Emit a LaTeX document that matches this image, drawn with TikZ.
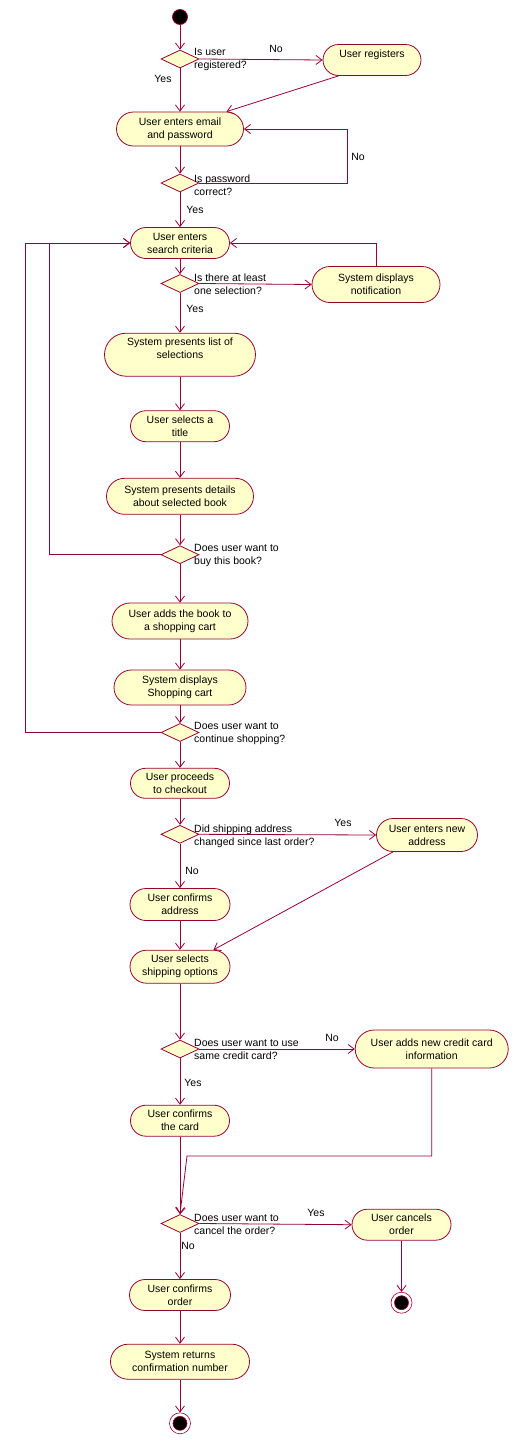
\documentclass[tikz,border=0pt]{standalone}
\usepackage{fontspec}
\setmainfont{Liberation Sans}
\usepackage{tikz}
\usetikzlibrary{shapes.misc,shapes.geometric,arrows.meta}
\definecolor{linec}{RGB}{153,0,51}
\definecolor{fillc}{RGB}{255,255,204}

\begin{document}
\begin{tikzpicture}[x=1pt,y=-1pt,
    act/.style={draw=linec,fill=fillc,rounded rectangle,line width=0.8pt,align=center},
    dec/.style={draw=linec,fill=fillc,diamond,line width=0.8pt,minimum width=38pt,minimum height=18pt},
    qtext/.style={anchor=west,align=left},
    flow/.style={draw=linec,line width=0.8pt,-{Straight Barb[length=6pt,width=9pt]}},
    startst/.style={circle,fill=black,draw=linec,line width=0.8pt,minimum size=15pt},
    endst/.style={circle,draw=linec,line width=0.6pt,minimum size=21pt,
      path picture={\fill[black,draw=linec] (path picture bounding box.center) circle (7pt);}}]
            \tikzstyle{every node}+=[inner sep=0pt,font=\fontsize{10.5}{13}\selectfont]
            \useasboundingbox (0,0) rectangle (525,1443);
            % states
            \node[startst] (start) at (180,17) {};
            \node[dec] (d1) at (180,59) {};
            \node[qtext] (q1) at (194,59.5) {Is user\\registered?};
            \node[act,minimum width=98pt,minimum height=31pt] (reg) at (372,60) {User registers\\~};
            \node[act,minimum width=127pt,minimum height=34pt] (email) at (180,129) {User enters email\\and password};
            \node[dec] (d2) at (180,183) {};
            \node[qtext] (q2) at (194,185.5) {Is password\\correct?};
            \node[act,minimum width=99pt,minimum height=31pt] (search) at (180,243) {User enters\\search criteria};
            \node[dec] (d3) at (180,283.5) {};
            \node[qtext] (q3) at (194,284.7) {Is there at least\\one selection?};
            \node[act,minimum width=128pt,minimum height=36pt] (notif) at (376,284.5) {System displays\\notification};
            \node[act,minimum width=151pt,minimum height=43pt] (list) at (180,354.7) {System presents list of\\selections\\~};
            \node[act,minimum width=99pt,minimum height=31pt] (title) at (180,426.2) {User selects a\\title};
            \node[act,minimum width=147pt,minimum height=36pt] (details) at (180,496.3) {System presents details\\about selected book};
            \node[dec] (d4) at (180,554.7) {};
            \node[qtext] (q4) at (194,555) {Does user want to\\buy this book?};
            \node[act,minimum width=136pt,minimum height=36pt] (add) at (180,621) {User adds the book to\\a shopping cart};
            \node[act,minimum width=132pt,minimum height=35pt] (cart) at (180,687.5) {System displays\\Shopping cart};
            \node[dec] (d5) at (180,732.5) {};
            \node[qtext] (q5) at (194,733.7) {Does user want to\\continue shopping?};
            \node[act,minimum width=99pt,minimum height=30pt] (checkout) at (180,783.3) {User proceeds\\to checkout};
            \node[dec] (d6) at (180,834.3) {};
            \node[qtext] (q6) at (194,835.8) {Did shipping address\\changed since last order?};
            \node[act,minimum width=101pt,minimum height=33pt] (newaddr) at (427,835) {User enters new\\address};
            \node[act,minimum width=100pt,minimum height=32pt] (confaddr) at (180,904.5) {User confirms\\address};
            \node[act,minimum width=100pt,minimum height=33pt] (shipopt) at (180,966.7) {User selects\\shipping options};
            \node[dec] (d7) at (180,1049) {};
            \node[qtext] (q7) at (194,1049.7) {Does user want to use\\same credit card?};
            \node[act,minimum width=153pt,minimum height=38pt] (newcard) at (431.7,1049) {User adds new credit card\\information};
            \node[act,minimum width=99pt,minimum height=31pt] (confcard) at (180,1120.7) {User confirms\\the card};
            \node[dec] (d8) at (180,1223.5) {};
            \node[qtext] (q8) at (194,1224.5) {Does user want to\\cancel the order?};
            \node[act,minimum width=99pt,minimum height=31pt] (cancel) at (401.5,1224.7) {User cancels\\order};
            \node[endst] (end2) at (401.5,1302.7) {};
            \node[act,minimum width=101pt,minimum height=31pt] (confirm) at (180,1295) {User confirms\\order};
            \node[act,minimum width=139pt,minimum height=35pt] (returns) at (180,1361.7) {System returns\\confirmation number};
            \node[endst] (end1) at (180,1423.3) {};
            % guard labels
            \node (l1) at (276,49) {No};
            \node (l2) at (163,79) {Yes};
            \node (l3) at (358,157) {No};
            \node (l4) at (195,210) {Yes};
            \node (l5) at (195,309) {Yes};
            \node (l6) at (343,823) {Yes};
            \node (l7) at (192,871) {No};
            \node (l8) at (332,1038) {No};
            \node (l9) at (193,1083) {Yes};
            \node (l10) at (316,1213) {Yes};
            \node (l11) at (188,1246) {No};
            \coordinate (bend) at (187,1156);
            % transitions
            \draw[flow] (start) -- (d1.north);
            \draw[flow] (d1.east) -- (reg.west);
            \draw[flow] (d1.south) -- (email.north);
            \draw[flow] (reg.south west) -- (email.north east);
            \draw[flow] (email.south) -- (d2.north);
            \draw[flow] (d2.east) -- ++(148,0) |- (email.east);
            \draw[flow] (d2.south) -- (search.north);
            \draw[flow] (search.south) -- (d3.north);
            \draw[flow] (d3.east) -- (notif.west);
            \draw[flow] (notif.north) |- (search.east);
            \draw[flow] (d3.south) -- (list.north);
            \draw[flow] (list.south) -- (title.north);
            \draw[flow] (title.south) -- (details.north);
            \draw[flow] (details.south) -- (d4.north);
            \draw[flow] (d4.west) -- ++(-111.5,0) |- (search.west);
            \draw[flow] (d4.south) -- (add.north);
            \draw[flow] (add.south) -- (cart.north);
            \draw[flow] (cart.south) -- (d5.north);
            \draw[flow] (d5.west) -- ++(-135.5,0) |- (search.west);
            \draw[flow] (d5.south) -- (checkout.north);
            \draw[flow] (checkout.south) -- (d6.north);
            \draw[flow] (d6.east) -- (newaddr.west);
            \draw[flow] (d6.south) -- (confaddr.north);
            \draw[flow] (newaddr.south west) -- (shipopt.north east);
            \draw[flow] (confaddr.south) -- (shipopt.north);
            \draw[flow] (shipopt.south) -- (d7.north);
            \draw[flow] (d7.east) -- (newcard.west);
            \draw[flow] (d7.south) -- (confcard.north);
            \draw[flow] (newcard.south) |- (bend) -- (d8.north);
            \draw[flow] (confcard.south) -- (d8.north);
            \draw[flow] (d8.east) -- (cancel.west);
            \draw[flow] (d8.south) -- (confirm.north);
            \draw[flow] (cancel.south) -- (end2);
            \draw[flow] (confirm.south) -- (returns.north);
            \draw[flow] (returns.south) -- (end1);
\end{tikzpicture}
\end{document}
